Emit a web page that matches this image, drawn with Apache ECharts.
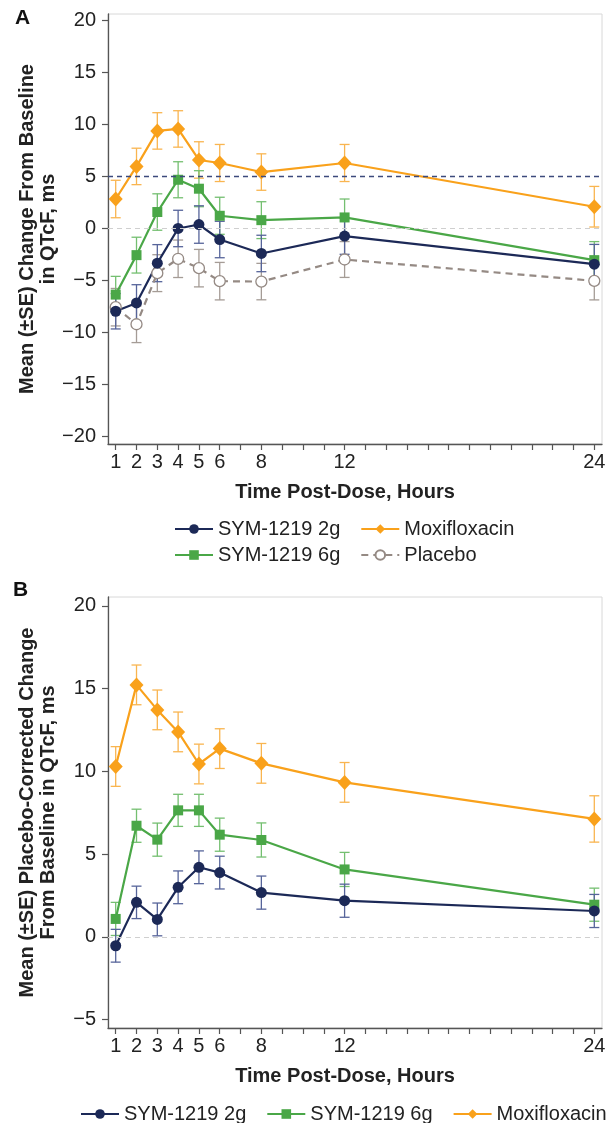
<!DOCTYPE html>
<html lang="en">
<head>
  <meta charset="UTF-8">
  <script src="https://cdn.jsdelivr.net/npm/echarts@6/dist/echarts.min.js"></script>
  <title>QTcF</title>
  <style>
    * {margin: 0; padding: 0;}
    html, body { width: 616px; height: 1123px; background: #fff; overflow: hidden; }
    #chart { width: 616px; height: 1123px; }
  </style>
</head>
<body>
  <div id="chart"></div>
<script>
// time points (hours)
var hours = [1, 2, 3, 4, 5, 6, 8, 12, 24]
var xLabelHours = [1, 2, 3, 4, 5, 6, 8, 12, 24]
var xTickHours = [1, 2, 3, 4, 5, 6, 7, 8, 9, 10, 11, 12, 13, 14, 15, 16, 17, 18, 19, 20, 21, 22, 23, 24]
var yTicksA = [-20, -15, -10, -5, 0, 5, 10, 15, 20]
var yTicksB = [-5, 0, 5, 10, 15, 20]

// panel A: change from baseline
var sym2gA = [-7.95, -7.15, -3.33, 0.0, 0.38, -1.06, -2.4, -0.73, -3.43]
var sym2gSeA = [1.7, 1.75, 1.78, 1.75, 1.8, 1.75, 1.75, 1.75, 1.9]
var sym6gA = [-6.35, -2.56, 1.58, 4.68, 3.82, 1.22, 0.8, 1.06, -3.04]
var sym6gSeA = [1.75, 1.72, 1.75, 1.73, 1.73, 1.78, 1.77, 1.77, 1.78]
var moxiA = [2.83, 5.96, 9.37, 9.56, 6.58, 6.29, 5.42, 6.29, 2.09]
var moxiSeA = [1.8, 1.75, 1.75, 1.75, 1.75, 1.78, 1.75, 1.78, 1.95]
var placeboA = [-7.56, -9.2, -4.29, -2.91, -3.81, -5.06, -5.1, -2.98, -5.03]
var placeboSeA = [1.8, 1.76, 1.77, 1.8, 1.8, 1.8, 1.75, 1.72, 1.83]

// panel B: placebo-corrected change
var sym2gB = [-0.53, 2.09, 1.06, 3.0, 4.21, 3.89, 2.68, 2.19, 1.57]
var sym2gSeB = [0.99, 0.98, 0.99, 0.99, 0.99, 0.99, 1.0, 1.0, 1.0]
var sym6gB = [1.09, 6.72, 5.88, 7.65, 7.65, 6.18, 5.86, 4.08, 1.95]
var sym6gSeB = [1.0, 1.0, 1.0, 0.97, 0.97, 1.0, 1.03, 1.03, 1.0]
var moxiB = [10.3, 15.23, 13.72, 12.39, 10.45, 11.38, 10.49, 9.34, 7.13]
var moxiSeB = [1.2, 1.2, 1.2, 1.2, 1.2, 1.2, 1.2, 1.2, 1.4]

var FONT = '"Liberation Sans", Arial, sans-serif'
var NAVY = '#1c2957', NAVY_E = '#56649a'
var GREEN = '#4aa747', GREEN_E = '#74bf70'
var ORANGE = '#f9a11b', ORANGE_E = '#f9b550'
var GREY = '#958a84', GREY_E = '#a59c96'

function pairs (ys) {
  return hours.map(function (h, i) { return [h, ys[i]] })
}
function bars (ys, se) {
  return hours.map(function (h, i) { return [h, ys[i] - se[i], ys[i] + se[i]] })
}
function errSeries (ys, se, color, gi) {
  return {
    type: 'custom',
    xAxisIndex: gi,
    yAxisIndex: gi,
    silent: true,
    z: 1,
    data: bars(ys, se),
    encode: {x: 0, y: [1, 2]},
    renderItem: function (params, api) {
      var lo = api.coord([api.value(0), api.value(1)])
      var hi = api.coord([api.value(0), api.value(2)])
      var w = 5
      var st = {stroke: color, lineWidth: 1.3}
      return {
        type: 'group',
        children: [
          {type: 'line', shape: {x1: lo[0], y1: lo[1], x2: hi[0], y2: hi[1]}, style: st},
          {type: 'line', shape: {x1: lo[0] - w, y1: lo[1], x2: lo[0] + w, y2: lo[1]}, style: st},
          {type: 'line', shape: {x1: hi[0] - w, y1: hi[1], x2: hi[0] + w, y2: hi[1]}, style: st}
        ]
      }
    }
  }
}
function lineSeries (name, ys, gi, opt) {
  var s = {
    name: name,
    type: 'line',
    xAxisIndex: gi,
    yAxisIndex: gi,
    z: 3,
    data: pairs(ys),
    symbol: opt.symbol,
    symbolSize: opt.size,
    showAllSymbol: true,
    lineStyle: {color: opt.color, width: 2.2, type: opt.dash || 'solid'},
    itemStyle: {color: opt.fill || opt.color, borderColor: opt.color, borderWidth: opt.fill ? 1.3 : 0, opacity: 1},
    emphasis: {disabled: true}
  }
  if (opt.markLine) s.markLine = opt.markLine
  return s
}
function minusFmt (v) { return String(v).replace('-', '\u2212') }

function xAxisCfg (gi) {
  return {
    type: 'value',
    gridIndex: gi,
    min: 0.63,
    max: 24.37,
    name: 'Time Post-Dose, Hours',
    nameLocation: 'middle',
    nameGap: 38,
    nameMoveOverlap: false,
    nameTextStyle: {fontFamily: FONT, fontSize: 20, fontWeight: 'bold', color: '#222', padding: [0, 20, 0, 0]},
    axisLine: {show: true, onZero: false, lineStyle: {color: '#555', width: 1.3}},
    axisTick: {show: true, length: 6, customValues: xTickHours, lineStyle: {color: '#555', width: 1.2}},
    axisLabel: {customValues: xLabelHours, fontFamily: FONT, fontSize: 20, color: '#222', margin: 8},
    splitLine: {show: false}
  }
}
function yAxisCfg (gi, min, max, ticks, name) {
  return {
    type: 'value',
    gridIndex: gi,
    min: min,
    max: max,
    name: name,
    nameLocation: 'middle',
    nameGap: 49,
    nameMoveOverlap: false,
    nameTextStyle: {fontFamily: FONT, fontSize: 20, fontWeight: 'bold', color: '#222', lineHeight: 21},
    axisLine: {show: true, onZero: false, lineStyle: {color: '#555', width: 1.3}},
    axisTick: {show: true, length: 6, customValues: ticks, lineStyle: {color: '#555', width: 1.2}},
    axisLabel: {customValues: ticks, fontFamily: FONT, fontSize: 20, color: '#222', margin: 12, formatter: minusFmt},
    splitLine: {show: false}
  }
}

var zeroLine = {yAxis: 0, lineStyle: {color: '#cfcfcf', type: [5, 4], width: 1.2}}
var fiveLine = {yAxis: 5, lineStyle: {color: '#3c4a7c', type: [5, 4], width: 1.3}}
function mk (lines) {
  return {silent: true, symbol: 'none', label: {show: false}, animation: false, data: lines}
}

var legendBase = {
  itemWidth: 38, itemHeight: 12, selectedMode: false, width: 560,
  textStyle: {fontFamily: FONT, fontSize: 20, color: '#222'}
}
function legendAt (left, top, names, gap) {
  return Object.assign({}, legendBase, {left: left, top: top, data: names, itemGap: gap})
}

var option = {
  animation: false,
  grid: [
    {left: 108, right: 14, top: 14, height: 430, show: true, borderColor: '#d8d8d8', borderWidth: 1, backgroundColor: 'transparent'},
    {left: 108, right: 14, top: 597, height: 431, show: true, borderColor: '#d8d8d8', borderWidth: 1, backgroundColor: 'transparent'}
  ],
  xAxis: [xAxisCfg(0), xAxisCfg(1)],
  yAxis: [
    yAxisCfg(0, -20.7, 20.6, yTicksA, 'Mean (\u00b1SE) Change From Baseline\nin QTcF, ms'),
    yAxisCfg(1, -5.5, 20.54, yTicksB, 'Mean (\u00b1SE) Placebo-Corrected Change\nFrom Baseline in QTcF, ms')
  ],
  legend: [
    legendAt(169, 514, ['SYM-1219 2g', 'Moxifloxacin'], 20),
    legendAt(169, 540, ['SYM-1219 6g', 'Placebo'], 20),
    legendAt(75, 1099, ['SYM-1219 2g', 'SYM-1219 6g', 'Moxifloxacin'], 20)
  ],
  graphic: [
    {type: 'text', left: 15, top: 8, style: {text: 'A', font: 'bold 21px ' + FONT, fill: '#111'}},
    {type: 'text', left: 13, top: 580, style: {text: 'B', font: 'bold 21px ' + FONT, fill: '#111'}}
  ],
  series: [
    errSeries(placeboA, placeboSeA, GREY_E, 0),
    errSeries(moxiA, moxiSeA, ORANGE_E, 0),
    errSeries(sym6gA, sym6gSeA, GREEN_E, 0),
    errSeries(sym2gA, sym2gSeA, NAVY_E, 0),
    lineSeries('Placebo', placeboA, 0, {symbol: 'circle', size: 11, color: GREY, fill: '#fff', dash: [7, 5], markLine: mk([zeroLine, fiveLine])}),
    lineSeries('Moxifloxacin', moxiA, 0, {symbol: 'diamond', size: [14, 15], color: ORANGE}),
    lineSeries('SYM-1219 6g', sym6gA, 0, {symbol: 'rect', size: 10, color: GREEN}),
    lineSeries('SYM-1219 2g', sym2gA, 0, {symbol: 'circle', size: 11, color: NAVY}),

    errSeries(moxiB, moxiSeB, ORANGE_E, 1),
    errSeries(sym6gB, sym6gSeB, GREEN_E, 1),
    errSeries(sym2gB, sym2gSeB, NAVY_E, 1),
    lineSeries('Moxifloxacin', moxiB, 1, {symbol: 'diamond', size: [14, 15], color: ORANGE, markLine: mk([zeroLine])}),
    lineSeries('SYM-1219 6g', sym6gB, 1, {symbol: 'rect', size: 10, color: GREEN}),
    lineSeries('SYM-1219 2g', sym2gB, 1, {symbol: 'circle', size: 11, color: NAVY})
  ]
}

var chart = echarts.init(document.getElementById('chart'))
chart.setOption(option)
</script>
</body>
</html>
